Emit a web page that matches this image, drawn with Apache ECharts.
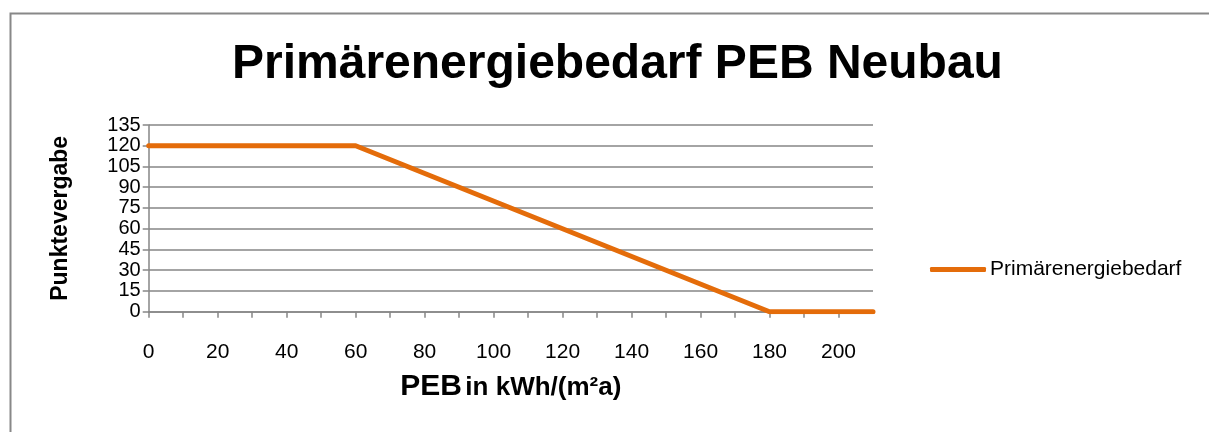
<!DOCTYPE html>
<html>
<head>
<meta charset="utf-8">
<script src="https://cdn.jsdelivr.net/npm/echarts@6/dist/echarts.min.js"></script>
<style>html,body{margin:0;padding:0;background:#fff;}#c{width:1209px;height:432px;}</style>
</head>
<body>
<div id="c"></div>
<script>
const titleText = 'Primärenergiebedarf PEB Neubau';
const seriesName = 'Primärenergiebedarf';
const xValues = [0, 60, 180, 210];
const yValues = [120, 120, 0, 0];
const yAxisName = 'Punktevergabe';

const chart = echarts.init(document.getElementById('c'), null, {renderer: 'canvas'});
const axisFont = 'Liberation Sans';
chart.setOption({
  animation: false,
  backgroundColor: '#fff',
  graphic: [{
    type: 'rect', shape: {x: 10.5, y: 13.5, width: 1300, height: 500},
    style: {fill: 'none', stroke: '#888888', lineWidth: 2}
  }],
  title: {
    text: titleText, left: 227, top: 36,
    textStyle: {fontFamily: 'Liberation Sans', fontWeight: 'bold', fontSize: 48, color: '#000'}
  },
  grid: {left: 148.7, right: 336, top: 125, bottom: 120.3},
  legend: {
    left: 925, top: 254, icon: 'roundRect', itemWidth: 56, itemHeight: 5, itemGap: 0,
    textStyle: {fontFamily: axisFont, fontSize: 21, color: '#000', padding: [0,0,0,-1]},
    data: [seriesName]
  },
  xAxis: {
    type: 'value', min: 0, max: 210, interval: 10,
    name: '{a|PEB} {b|in kWh/(m²a)}', nameLocation: 'middle', nameGap: 60,
    nameTextStyle: {rich: {
      a: {fontFamily: 'Liberation Sans', fontWeight: 'bold', fontSize: 30, color: '#000'},
      b: {fontFamily: 'Liberation Sans', fontWeight: 'bold', fontSize: 26, color: '#000', padding: [3,0,0,0]}
    }},
    axisLine: {show: true, lineStyle: {color: '#868686', width: 1.5}},
    axisTick: {show: true, length: 6, lineStyle: {color: '#868686', width: 1.5}},
    splitLine: {show: false},
    axisLabel: {
      margin: 30, fontFamily: axisFont, fontSize: 21, color: '#000',
      showMaxLabel: false,
      formatter: v => (v % 20 === 0 ? String(v) : '')
    }
  },
  yAxis: {
    type: 'value', min: 0, max: 135, interval: 15,
    name: yAxisName, nameLocation: 'middle', nameGap: 77,
    nameTextStyle: {fontFamily: 'Liberation Sans', fontWeight: 'bold', fontSize: 23, color: '#000'},
    axisLine: {show: true, lineStyle: {color: '#868686', width: 1.5}},
    axisTick: {show: true, length: 6, lineStyle: {color: '#868686', width: 1.5}},
    splitLine: {show: true, lineStyle: {color: '#868686', width: 1.5}},
    axisLabel: {margin: 8, fontFamily: axisFont, fontSize: 20, color: '#000', lineHeight: 20}
  },
  series: [{
    name: seriesName, type: 'line',
    data: xValues.map((x, i) => [x, yValues[i]]),
    showSymbol: false, symbol: 'none',
    lineStyle: {color: '#E46C0A', width: 5, cap: 'round', join: 'round'},
    itemStyle: {color: '#E46C0A'}
  }]
});
</script>
</body>
</html>
